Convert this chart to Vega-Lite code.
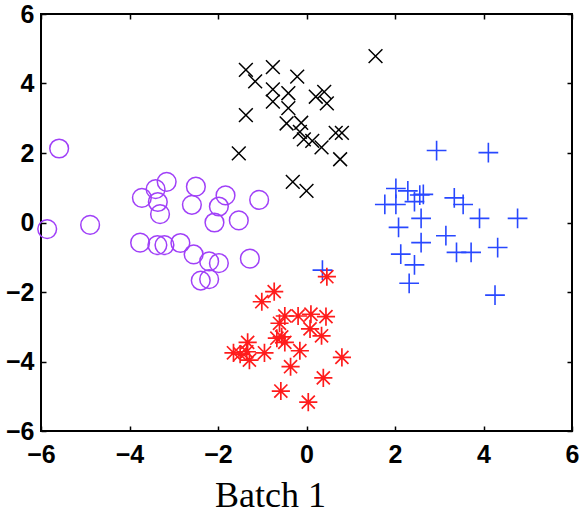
{
  "$schema": "https://vega.github.io/schema/vega-lite/v6.json",
  "width": 531,
  "height": 417,
  "autosize": {"type": "none"},
  "padding": {"left": 41, "top": 14, "right": 11, "bottom": 84},
  "background": "white",
  "config": {
    "view": {"stroke": "black", "strokeWidth": 2},
    "axis": {
      "grid": false,
      "domain": false,
      "tickColor": "black",
      "tickWidth": 1.5,
      "tickSize": -5,
      "labelFont": "Liberation Sans",
      "labelFontWeight": "bold",
      "labelFontSize": 25,
      "labelColor": "black",
      "labelFlush": false,
      "labelOverlap": false
    }
  },
  "data": {
    "values": [
      {"g": "A", "x": -5.59, "y": 2.13},
      {"g": "A", "x": -5.86, "y": -0.19},
      {"g": "A", "x": -4.89, "y": -0.07},
      {"g": "A", "x": -3.72, "y": 0.71},
      {"g": "A", "x": -3.41, "y": 0.96},
      {"g": "A", "x": -3.16, "y": 1.17},
      {"g": "A", "x": -3.36, "y": 0.59},
      {"g": "A", "x": -3.31, "y": 0.24},
      {"g": "A", "x": -2.50, "y": 1.03},
      {"g": "A", "x": -2.59, "y": 0.51},
      {"g": "A", "x": -1.83, "y": 0.78},
      {"g": "A", "x": -1.98, "y": 0.46},
      {"g": "A", "x": -2.08, "y": 0.0},
      {"g": "A", "x": -1.53, "y": 0.06},
      {"g": "A", "x": -1.07, "y": 0.65},
      {"g": "A", "x": -3.76, "y": -0.58},
      {"g": "A", "x": -3.37, "y": -0.65},
      {"g": "A", "x": -3.21, "y": -0.65},
      {"g": "A", "x": -2.85, "y": -0.59},
      {"g": "A", "x": -2.55, "y": -0.92},
      {"g": "A", "x": -2.20, "y": -1.12},
      {"g": "A", "x": -1.98, "y": -1.17},
      {"g": "A", "x": -2.39, "y": -1.67},
      {"g": "A", "x": -2.20, "y": -1.63},
      {"g": "A", "x": -1.28, "y": -1.04},
      {"g": "B", "x": 1.56, "y": 4.79},
      {"g": "B", "x": -1.37, "y": 4.39},
      {"g": "B", "x": -1.16, "y": 4.06},
      {"g": "B", "x": -0.76, "y": 4.47},
      {"g": "B", "x": -0.21, "y": 4.20},
      {"g": "B", "x": -0.76, "y": 3.83},
      {"g": "B", "x": -0.76, "y": 3.48},
      {"g": "B", "x": -0.41, "y": 3.72},
      {"g": "B", "x": -0.41, "y": 3.29},
      {"g": "B", "x": 0.21, "y": 3.62},
      {"g": "B", "x": 0.40, "y": 3.76},
      {"g": "B", "x": 0.46, "y": 3.43},
      {"g": "B", "x": -1.37, "y": 3.09},
      {"g": "B", "x": -0.45, "y": 2.85},
      {"g": "B", "x": -0.12, "y": 2.87},
      {"g": "B", "x": -0.15, "y": 2.61},
      {"g": "B", "x": -0.06, "y": 2.39},
      {"g": "B", "x": 0.13, "y": 2.35},
      {"g": "B", "x": 0.34, "y": 2.16},
      {"g": "B", "x": 0.66, "y": 2.58},
      {"g": "B", "x": 0.80, "y": 2.58},
      {"g": "B", "x": 0.76, "y": 1.82},
      {"g": "B", "x": -1.53, "y": 1.99},
      {"g": "B", "x": -0.31, "y": 1.17},
      {"g": "B", "x": 0.0, "y": 0.91},
      {"g": "C", "x": 2.94, "y": 2.07},
      {"g": "C", "x": 4.11, "y": 2.01},
      {"g": "C", "x": 2.02, "y": 0.98},
      {"g": "C", "x": 2.29, "y": 0.91},
      {"g": "C", "x": 2.64, "y": 0.81},
      {"g": "C", "x": 1.77, "y": 0.52},
      {"g": "C", "x": 2.02, "y": 0.52},
      {"g": "C", "x": 2.44, "y": 0.60},
      {"g": "C", "x": 2.56, "y": 0.79},
      {"g": "C", "x": 3.34, "y": 0.71},
      {"g": "C", "x": 3.54, "y": 0.52},
      {"g": "C", "x": 2.59, "y": 0.12},
      {"g": "C", "x": 3.91, "y": 0.12},
      {"g": "C", "x": 4.77, "y": 0.12},
      {"g": "C", "x": 2.08, "y": -0.14},
      {"g": "C", "x": 3.15, "y": -0.38},
      {"g": "C", "x": 2.59, "y": -0.58},
      {"g": "C", "x": 2.13, "y": -0.91},
      {"g": "C", "x": 3.39, "y": -0.86},
      {"g": "C", "x": 3.72, "y": -0.86},
      {"g": "C", "x": 4.32, "y": -0.72},
      {"g": "C", "x": 2.44, "y": -1.22},
      {"g": "C", "x": 2.32, "y": -1.75},
      {"g": "C", "x": 4.26, "y": -2.09},
      {"g": "C", "x": 0.36, "y": -1.37},
      {"g": "D", "x": 0.46, "y": -1.56},
      {"g": "D", "x": -0.73, "y": -1.99},
      {"g": "D", "x": -1.01, "y": -2.28},
      {"g": "D", "x": -0.49, "y": -2.69},
      {"g": "D", "x": -0.19, "y": -2.69},
      {"g": "D", "x": 0.10, "y": -2.64},
      {"g": "D", "x": 0.44, "y": -2.71},
      {"g": "D", "x": -0.61, "y": -2.90},
      {"g": "D", "x": 0.08, "y": -3.06},
      {"g": "D", "x": 0.34, "y": -3.26},
      {"g": "D", "x": -0.67, "y": -3.33},
      {"g": "D", "x": -0.56, "y": -3.29},
      {"g": "D", "x": -0.49, "y": -3.45},
      {"g": "D", "x": -0.15, "y": -3.69},
      {"g": "D", "x": -1.33, "y": -3.45},
      {"g": "D", "x": -1.65, "y": -3.75},
      {"g": "D", "x": -1.50, "y": -3.79},
      {"g": "D", "x": -1.29, "y": -3.96},
      {"g": "D", "x": -0.95, "y": -3.75},
      {"g": "D", "x": -1.35, "y": -3.72},
      {"g": "D", "x": 0.80, "y": -3.88},
      {"g": "D", "x": -0.36, "y": -4.15},
      {"g": "D", "x": 0.38, "y": -4.47},
      {"g": "D", "x": -0.58, "y": -4.85},
      {"g": "D", "x": 0.04, "y": -5.17}
    ]
  },
  "layer": [
    {
      "transform": [{"filter": "datum.g === 'A'"}],
      "mark": {"type": "point", "shape": "circle", "filled": false, "strokeWidth": 1.5, "size": 350, "color": "#a040f8", "opacity": 1},
      "encoding": {
        "x": {
          "field": "x", "type": "quantitative",
          "scale": {"domain": [-6, 6], "nice": false, "zero": false},
          "axis": {
            "orient": "bottom",
            "values": [-6, -4, -2, 0, 2, 4, 6],
            "labelPadding": 16,
            "title": "Batch 1",
            "titleFont": "Liberation Serif",
            "titleFontWeight": "normal",
            "titleFontSize": 36,
            "titleColor": "black",
            "titleX": 229,
            "titleY": 75,
            "titleBaseline": "alphabetic",
            "titleAlign": "center"
          }
        },
        "y": {
          "field": "y", "type": "quantitative",
          "scale": {"domain": [-6, 6], "nice": false, "zero": false},
          "axis": {
            "orient": "left",
            "values": [-6, -4, -2, 0, 2, 4, 6],
            "labelPadding": 12,
            "title": null
          }
        }
      }
    },
    {
      "transform": [{"filter": "datum.g === 'B'"}],
      "mark": {"type": "point", "shape": "M-1,-1L1,1M-1,1L1,-1", "filled": false, "strokeWidth": 1.5, "size": 190, "color": "#000000", "opacity": 1},
      "encoding": {
        "x": {"field": "x", "type": "quantitative", "axis": null},
        "y": {"field": "y", "type": "quantitative", "axis": null}
      }
    },
    {
      "transform": [{"filter": "datum.g === 'C'"}],
      "mark": {"type": "point", "shape": "M-1,0L1,0M0,-1L0,1", "filled": false, "strokeWidth": 1.6, "size": 390, "color": "#2848ff", "opacity": 1},
      "encoding": {
        "x": {"field": "x", "type": "quantitative", "axis": null},
        "y": {"field": "y", "type": "quantitative", "axis": null}
      }
    },
    {
      "transform": [{"filter": "datum.g === 'D'"}],
      "mark": {"type": "point", "shape": "M-1,0L1,0M0,-1L0,1M-0.72,-0.72L0.72,0.72M-0.72,0.72L0.72,-0.72", "filled": false, "strokeWidth": 1.7, "size": 330, "color": "#ff1c1c", "opacity": 1},
      "encoding": {
        "x": {"field": "x", "type": "quantitative", "axis": null},
        "y": {"field": "y", "type": "quantitative", "axis": null}
      }
    },
    {
      "mark": {"type": "point", "opacity": 0},
      "encoding": {
        "x": {
          "field": "x", "type": "quantitative",
          "axis": {"orient": "top", "values": [-6, -4, -2, 0, 2, 4, 6], "labels": false, "title": null}
        },
        "y": {
          "field": "y", "type": "quantitative",
          "axis": {"orient": "right", "values": [-6, -4, -2, 0, 2, 4, 6], "labels": false, "title": null}
        }
      }
    }
  ],
  "resolve": {"axis": {"x": "independent", "y": "independent"}}
}
